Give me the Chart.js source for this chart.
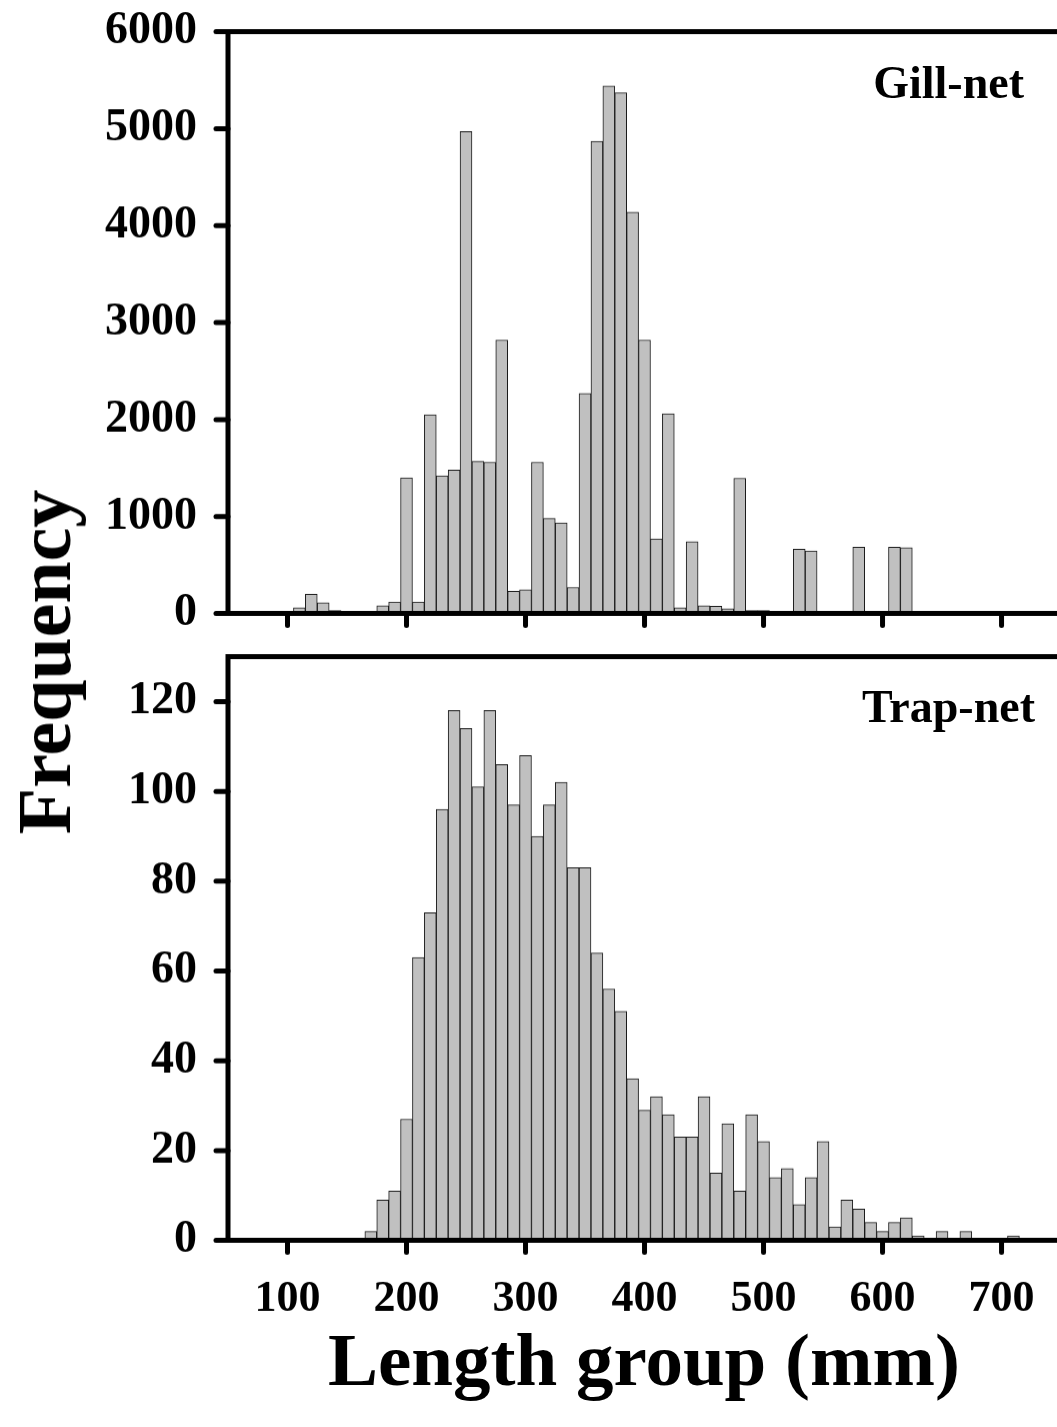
<!DOCTYPE html>
<html>
<head>
<meta charset="utf-8">
<script src="https://cdn.jsdelivr.net/npm/chart.js@4"></script>
<style>
  html, body { margin: 0; padding: 0; background: #fff; }
  #page { position: relative; width: 1057px; height: 1427px; overflow: hidden; }
  canvas { position: absolute; left: 0; }
  .lbl { position: absolute; font-family: 'Liberation Serif', 'Times New Roman', serif; font-weight: bold; color: #000; line-height: 1; white-space: nowrap; }
</style>
</head>
<body>
<div id="page">
  <canvas id="gill"></canvas>
  <canvas id="trap"></canvas>
  <div class="lbl" id="gillLbl" style="font-size:46px; right:33px; top:60px;">Gill-net</div>
  <div class="lbl" id="trapLbl" style="font-size:46px; right:22px; top:684px;">Trap-net</div>
  <div class="lbl" id="yTitle" style="font-size:76px; left:44px; top:662px; transform: translate(-50%,-50%) rotate(-90deg);">Frequency</div>
  <div class="lbl" id="xTitle" style="font-size:75px; left:644px; top:1322px; transform: translateX(-50%);">Length group (mm)</div>
</div>
<script>
// length group (bin centre, mm)
const lengthGroups = [100, 110, 120, 130, 140, 150, 160, 170, 180, 190,
  200, 210, 220, 230, 240, 250, 260, 270, 280, 290,
  300, 310, 320, 330, 340, 350, 360, 370, 380, 390,
  400, 410, 420, 430, 440, 450, 460, 470, 480, 490,
  500, 510, 520, 530, 540, 550, 560, 570, 580, 590,
  600, 610, 620, 630, 640, 650, 660, 670, 680, 690,
  700, 710, 720];

const gillNet = [0, 60, 200, 110, 30, 0, 0, 0, 80, 120,
  1400, 120, 2050, 1420, 1480, 4970, 1570, 1560, 2820, 230,
  245, 1560, 980, 935, 270, 2270, 4870, 5440, 5370, 4140,
  2820, 770, 2060, 60, 740, 80, 75, 50, 1395, 30,
  30, 0, 0, 665, 645, 0, 0, 0, 685, 0,
  0, 685, 680, 0, 0, 0, 0, 0, 0, 0,
  0, 0, 0];

const trapNet = [0, 0, 0, 0, 0, 0, 0, 2, 9, 11,
  27, 63, 73, 96, 118, 114, 101, 118, 106, 97,
  108, 90, 97, 102, 83, 83, 64, 56, 51, 36,
  29, 32, 28, 23, 23, 32, 15, 26, 11, 28,
  22, 14, 16, 8, 14, 22, 3, 9, 7, 4,
  2, 4, 5, 1, 0, 2, 0, 2, 0, 0,
  0, 1, 0];

const xTicks = [100, 200, 300, 400, 500, 600, 700];
const gillTicks = [0, 1000, 2000, 3000, 4000, 5000, 6000];
const trapTicks = [0, 20, 40, 60, 80, 100, 120];

const FONT = 'Liberation Serif';
const CANVAS_W = 1075;

// frame + round-capped tick marks
const framePlugin = {
  id: 'frame',
  afterDraw(chart) {
    const { ctx, chartArea: a, scales: { x, y } } = chart;
    ctx.save();
    ctx.strokeStyle = '#000';
    ctx.lineWidth = 5;
    ctx.lineCap = 'round';
    y.ticks.forEach(t => {
      const py = y.getPixelForValue(t.value);
      ctx.beginPath(); ctx.moveTo(a.left - 12, py); ctx.lineTo(a.left, py); ctx.stroke();
    });
    x.ticks.forEach(t => {
      const px = x.getPixelForValue(t.value);
      ctx.beginPath(); ctx.moveTo(px, a.bottom); ctx.lineTo(px, a.bottom + 12); ctx.stroke();
    });
    ctx.lineCap = 'butt';
    ctx.lineJoin = 'miter';
    ctx.beginPath();
    ctx.moveTo(a.right, a.top);
    ctx.lineTo(a.left, a.top);
    ctx.lineTo(a.left, a.bottom);
    ctx.lineTo(a.right, a.bottom);
    ctx.stroke();
    ctx.restore();
  }
};

// areaTop / areaBottom: where the plot frame should sit on the page
function makePanel(id, areaTop, areaBottom, xHeight, values, yMax, yTicks, showXLabels) {
  const canvas = document.getElementById(id);
  const startH = areaBottom - areaTop + 200;
  canvas.width = CANVAS_W;
  canvas.height = startH;
  canvas.style.width = CANVAS_W + 'px';
  canvas.style.height = startH + 'px';

  const chart = new Chart(canvas, {
    type: 'bar',
    data: {
      datasets: [{
        data: lengthGroups.map((g, i) => ({ x: g, y: values[i] })),
        backgroundColor: '#c0c0c0',
        borderColor: '#1a1a1a',
        borderWidth: 1,
        barPercentage: 1,
        categoryPercentage: 1,
      }],
    },
    options: {
      responsive: false,
      maintainAspectRatio: false,
      animation: false,
      layout: { padding: { top: 0, left: 0, right: 8, bottom: 0 } },
      plugins: { legend: { display: false }, tooltip: { enabled: false } },
      scales: {
        x: {
          type: 'linear',
          min: 50,
          max: 755,
          offset: false,
          grid: { display: false, drawTicks: false },
          border: { display: false },
          afterBuildTicks: s => { s.ticks = xTicks.map(v => ({ value: v })); },
          afterFit: s => { s.height = xHeight; },
          ticks: {
            display: showXLabels,
            padding: 33,
            maxRotation: 0,
            autoSkip: false,
            color: '#000',
            font: { family: FONT, weight: 'bold', size: 44 },
          },
        },
        y: {
          min: 0,
          max: yMax,
          grid: { display: false, drawTicks: false },
          border: { display: false },
          afterBuildTicks: s => { s.ticks = yTicks.map(v => ({ value: v })); },
          afterFit: s => { s.width = 228; },
          ticks: {
            padding: 31,
            color: '#000',
            callback: v => String(v),
            font: { family: FONT, weight: 'bold', size: 46 },
          },
        },
      },
    },
    plugins: [framePlugin],
  });

  // fit the plot height, then slide the canvas so the frame lands in place
  const a = chart.chartArea;
  const newH = startH + (areaBottom - areaTop) - (a.bottom - a.top);
  chart.resize(CANVAS_W, newH);
  canvas.style.top = (areaTop - chart.chartArea.top) + 'px';
  return chart;
}

makePanel('gill', 32, 613, 40, gillNet, 6000, gillTicks, false);
makePanel('trap', 657, 1240, 187, trapNet, 130, trapTicks, true);
</script>
</body>
</html>
